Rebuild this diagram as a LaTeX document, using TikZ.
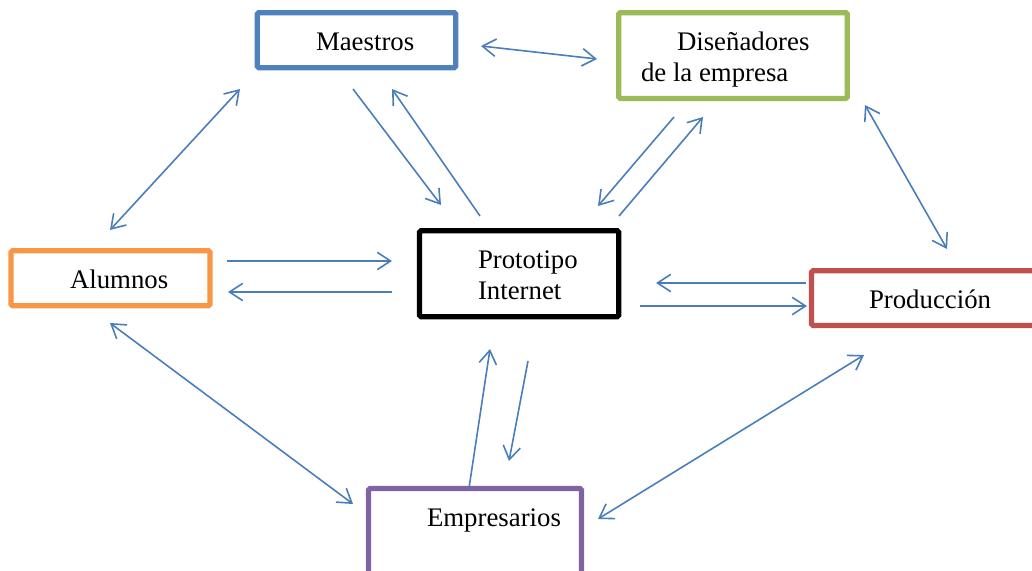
\documentclass[tikz,border=0pt]{standalone}
\usepackage{fontspec}
\setmainfont{Liberation Serif}
\usetikzlibrary{arrows.meta}
\definecolor{linkblue}{HTML}{4A7EBB}
\definecolor{bxblue}{HTML}{4F81BD}
\definecolor{bxgreen}{HTML}{9BBB59}
\definecolor{bxorange}{HTML}{F79646}
\definecolor{bxred}{HTML}{C0504D}
\definecolor{bxpurple}{HTML}{8064A2}
\tikzset{
  x=0.75pt,y=-0.75pt,
  bx/.style={draw=#1,line width=4pt,rounded corners=1.2pt,fill=white},
  lbl/.style={anchor=base west,inner sep=0pt,outer sep=0pt,font=\fontsize{20.1pt}{24pt}\selectfont,text=black},
  link/.style={draw=linkblue,line width=1.2pt,-{Straight Barb[length=10pt,width=13pt,line width=1.2pt]}},
  dlink/.style={draw=linkblue,line width=1.2pt,{Straight Barb[length=10pt,width=13pt,line width=1.2pt]}-{Straight Barb[length=10pt,width=13pt,line width=1.2pt]}},
}
\begin{document}
\begin{tikzpicture}
\useasboundingbox (0,0) rectangle (1032,571);
\clip (0,0) rectangle (1032,571);
% boxes
\draw[bx=bxblue] (257.2,12.7) rectangle (455.8,67.7);
\draw[bx=bxgreen] (618.7,12.7) rectangle (847.3,98.5);
\draw[bx=bxorange] (11,250.7) rectangle (210,305.7);
\draw[bx=black] (419.5,230.7) rectangle (618.7,316.7);
\draw[bx=bxred] (811.5,270.7) rectangle (1045,325.5);
\draw[bx=bxpurple] (368.5,488.5) rectangle (581.5,600);
% labels
\node[lbl] (maestros) at (316,50) {Maestros};
\node[lbl] (dis1) at (677,50) {Diseñadores};
\node[lbl] (dis2) at (641,81) {de la empresa};
\node[lbl] (alumnos) at (70,288) {Alumnos};
\node[lbl] (proto1) at (478,268) {Prototipo};
\node[lbl] (proto2) at (478,299) {Internet};
\node[lbl] (prod) at (869,308) {Producción};
\node[lbl] (emp) at (427,526) {Empresarios};
% connector ends
\foreach \n/\x/\y in {a1/481/46,a2/597/59,b1/110/230,b2/240/89,c1/353/89,c2/441/205,d1/480/216,d2/392/89,
 e1/674/117,e2/598/206,f1/619/216,f2/703/117,g1/865/105,g2/947/249,h1/227/261,h2/392/261,i1/392/292,i2/228/292,
 j1/806/283,j2/656/283,k1/640/306,k2/807/306,l1/110/323,l2/353/504,m1/469/488,m2/490/349,n1/528/361,n2/509/461,
 o1/598/519,o2/864/355}{\coordinate (\n) at (\x,\y);}
% connectors
\draw[dlink] (a1) -- (a2);
\draw[dlink] (b1) -- (b2);
\draw[link] (c1) -- (c2);
\draw[link] (d1) -- (d2);
\draw[link] (e1) -- (e2);
\draw[link] (f1) -- (f2);
\draw[dlink] (g1) -- (g2);
\draw[link] (h1) -- (h2);
\draw[link] (i1) -- (i2);
\draw[link] (j1) -- (j2);
\draw[link] (k1) -- (k2);
\draw[dlink] (l1) -- (l2);
\draw[link] (m1) -- (m2);
\draw[link] (n1) -- (n2);
\draw[dlink] (o1) -- (o2);
\end{tikzpicture}
\end{document}
